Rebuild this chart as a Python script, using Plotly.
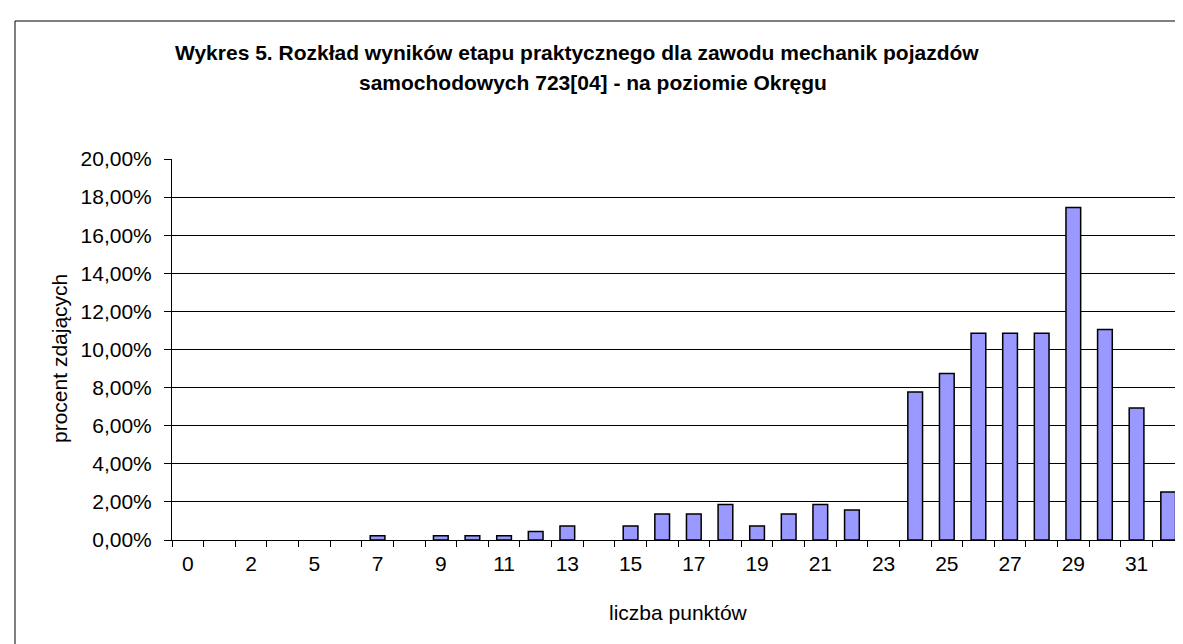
import plotly.graph_objects as go

# wyniki etapu praktycznego - rozkład punktów (procent zdających)
kategorie = ["0", "1", "2", "3", "5", "6", "7", "8", "9", "10", "11", "12", "13", "14", "15", "16",
             "17", "18", "19", "20", "21", "22", "23", "24", "25", "26", "27", "28", "29", "30", "31", "32"]
procent = [0, 0, 0, 0, 0, 0, 0.22, 0, 0.22, 0.22, 0.22, 0.44, 0.74, 0, 0.74, 1.37,
           1.37, 1.87, 0.74, 1.37, 1.87, 1.57, 0, 7.77, 8.74, 10.85, 10.85, 10.85, 17.45, 11.05, 6.93, 2.52]
y_ticks = [0, 0.02, 0.04, 0.06, 0.08, 0.10, 0.12, 0.14, 0.16, 0.18, 0.20]

tytul_1 = "Wykres 5. Rozkład wyników etapu praktycznego dla zawodu mechanik pojazdów"
tytul_2 = "samochodowych 723[04] - na poziomie Okręgu"

W, H = 1183, 644
L, R, T, B = 164, 7, 151, 112
FONT = "Liberation Sans, Arial, sans-serif"


def px_x(x):
    return (x - L) / (W - L - R)


def px_y(y):
    return (H - B - y) / (H - T - B)


# co druga etykieta, jak w Excelu
tick_text = [k if i % 2 == 0 else "" for i, k in enumerate(kategorie)]
# puste kategorie bez obramowania
obrys = [1.5 if p > 0 else 0 for p in procent]

fig = go.Figure()
fig.add_trace(go.Bar(
    x=kategorie, y=[p / 100 for p in procent],
    marker=dict(color="#9999FF", line=dict(color="black", width=obrys)),
    showlegend=False,
))

fig.update_layout(
    width=W, height=H,
    margin=dict(l=L, r=R, t=T, b=B),
    paper_bgcolor="white", plot_bgcolor="white",
    font=dict(family=FONT, size=21, color="black"),
    separators=", ",
    bargap=0.535,
    xaxis=dict(
        type="category", tickmode="array", tickvals=kategorie, ticktext=tick_text,
        tickson="boundaries", ticks="outside", ticklen=6, tickcolor="black", tickangle=0,
        showline=True, linecolor="black", linewidth=1, showgrid=False,
        tickfont=dict(size=21), ticklabelstandoff=5,
    ),
    yaxis=dict(
        range=[0, 0.2], tickvals=y_ticks, tickformat=".2%",
        ticks="outside", ticklen=7, tickcolor="black",
        showline=True, linecolor="black", linewidth=1,
        showgrid=True, gridcolor="black", gridwidth=1, zeroline=False,
        tickfont=dict(size=21), ticklabelstandoff=8,
    ),
    shapes=[dict(type="rect", xref="paper", yref="paper",
                 x0=px_x(7), x1=px_x(1200), y0=px_y(660), y1=px_y(13),
                 line=dict(color="black", width=1), fillcolor="rgba(0,0,0,0)", layer="below")],
    annotations=[
        dict(text="<b>%s</b>" % tytul_1, xref="paper", yref="paper", x=px_x(569), y=px_y(45),
             xanchor="center", yanchor="middle", showarrow=False, font=dict(size=21)),
        dict(text="<b>%s</b>" % tytul_2, xref="paper", yref="paper", x=px_x(585), y=px_y(74),
             xanchor="center", yanchor="middle", showarrow=False, font=dict(size=21)),
        dict(text="procent zdających", xref="paper", yref="paper", x=px_x(51), y=px_y(351),
             xanchor="center", yanchor="middle", textangle=-90, showarrow=False, font=dict(size=21)),
        dict(text="liczba punktów", xref="paper", yref="paper", x=px_x(670), y=px_y(604),
             xanchor="center", yanchor="middle", showarrow=False, font=dict(size=21)),
    ],
)

fig.write_html("out.html")
